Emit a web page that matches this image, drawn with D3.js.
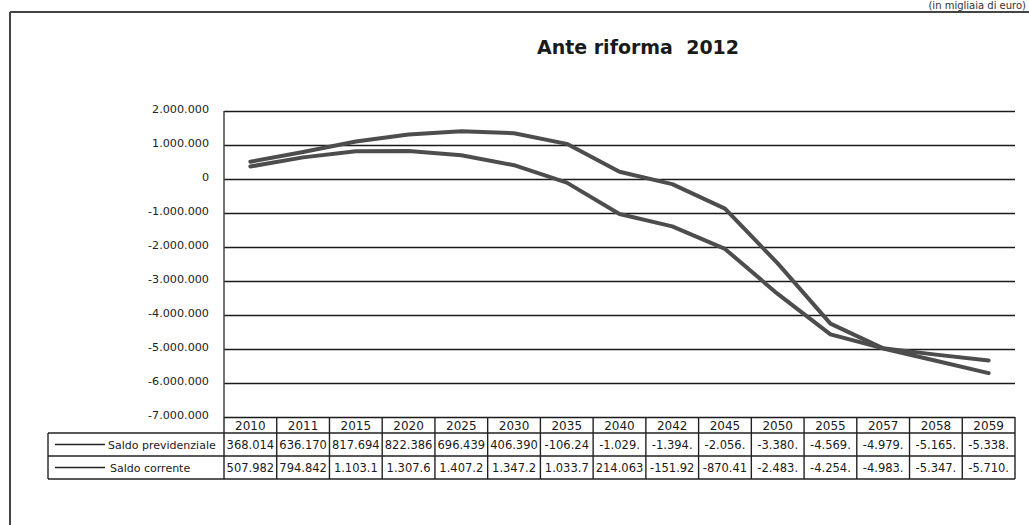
<!DOCTYPE html>
<html><head><meta charset="utf-8">
<script src="https://cdn.jsdelivr.net/npm/d3@7"></script>
<style>
html,body{margin:0;padding:0;background:#fff;}
svg{display:block;font-family:"DejaVu Sans",Verdana,sans-serif;}
.pre{white-space:pre;}
</style></head>
<body>
<svg id="chart" width="1029" height="525"></svg>
<script>
const title = "Ante riforma  2012";
const unitNote = "(in migliaia di euro)";
const years = ["2010","2011","2015","2020","2025","2030","2035","2040","2042","2045","2050","2055","2057","2058","2059"];
const seriesNames = ["Saldo previdenziale","Saldo corrente"];
const saldoPrevidenziale = [368014,636170,817694,822386,696439,406390,-106245,-1029400,-1394300,-2056200,-3380500,-4569300,-4979600,-5165200,-5338400];
const saldoCorrente = [507982,794842,1103100,1307600,1407200,1347200,1033700,214063,-151920,-870410,-2483500,-4254200,-4983300,-5347100,-5710600];
const yTicks = [2000000,1000000,0,-1000000,-2000000,-3000000,-4000000,-5000000,-6000000,-7000000];

const it = d3.formatLocale({decimal:",",thousands:".",grouping:[3],currency:["€",""],minus:"-"});
const fmt = it.format(",.0f");
const cellText = v => fmt(v).slice(0,7);

const svg = d3.select("#chart");
const L = 224, R = 1015, T = 111, B = 417;
const x = d3.scaleBand().domain(years).range([L,R]);
const y = d3.scaleLinear().domain([-7000000,2000000]).range([B,T]);
const cx = d => x(d) + x.bandwidth()/2;

// outer frame
svg.append("line").attr("x1",10).attr("x2",1029).attr("y1",12).attr("y2",12).attr("stroke","#444").attr("stroke-width",2);
svg.append("line").attr("x1",10).attr("x2",10).attr("y1",12).attr("y2",525).attr("stroke","#444").attr("stroke-width",2);

// unit note
svg.append("text").attr("x",1026).attr("y",9).attr("text-anchor","end").attr("font-size",10).attr("fill","#333").text(unitNote);

// title
svg.append("text").attr("class","pre").attr("x",638).attr("y",54).attr("text-anchor","middle").attr("font-size",19).attr("font-weight","bold").attr("fill","#1a1a1a").text(title);

// gridlines
const grid = svg.append("g").attr("transform",`translate(${L},0)`)
  .call(d3.axisLeft(y).tickValues(yTicks).tickSize(-(R-L)).tickFormat(""));
grid.select(".domain").remove();
grid.selectAll(".tick line").attr("stroke","#1a1a1a").attr("stroke-width",1.6);

// y labels
const ya = svg.append("g").attr("transform",`translate(${L-12},0)`)
  .call(d3.axisLeft(y).tickValues(yTicks).tickSize(0).tickFormat(fmt));
ya.select(".domain").remove();
ya.selectAll("text").attr("font-size",11.2).attr("fill","#222").attr("font-family","DejaVu Sans, sans-serif").attr("dy","0.1em");

// y axis line
svg.append("line").attr("x1",L).attr("x2",L).attr("y1",T).attr("y2",B).attr("stroke","#444").attr("stroke-width",1.5);

// lines
const line = d3.line().x((d,i)=>cx(years[i])).y(d=>y(d));
[saldoPrevidenziale, saldoCorrente].forEach(s=>{
  svg.append("path").datum(s).attr("d",line).attr("fill","none").attr("stroke","#4d4d4d").attr("stroke-width",4).attr("stroke-linejoin","round").attr("stroke-linecap","round");
});

// data table
const H0 = B, H1 = 433, R1 = 456, R2 = 479, TL = 48;
const tbl = svg.append("g").attr("stroke","#222").attr("stroke-width",1.4);
tbl.append("line").attr("x1",TL).attr("x2",R).attr("y1",H1).attr("y2",H1);
tbl.append("line").attr("x1",TL).attr("x2",R).attr("y1",R1).attr("y2",R1);
tbl.append("line").attr("x1",TL).attr("x2",R).attr("y1",R2).attr("y2",R2);
tbl.append("line").attr("x1",TL).attr("x2",TL).attr("y1",H1).attr("y2",R2);
tbl.append("line").attr("x1",L).attr("x2",L).attr("y1",H0).attr("y2",R2);
years.forEach(yr=>{
  tbl.append("line").attr("x1",x(yr)+x.bandwidth()).attr("x2",x(yr)+x.bandwidth()).attr("y1",H0).attr("y2",R2);
});
// year headers
svg.append("g").selectAll("text").data(years).join("text")
  .attr("x",d=>cx(d)).attr("y",(H0+H1)/2+4.5).attr("text-anchor","middle")
  .attr("font-size",12).attr("fill","#1a1a1a").text(d=>d);
// rows
[[saldoPrevidenziale,H1,R1],[saldoCorrente,R1,R2]].forEach(([s,a,b],k)=>{
  const mid=(a+b)/2;
  svg.append("line").attr("x1",55).attr("x2",105).attr("y1",mid).attr("y2",mid).attr("stroke","#222").attr("stroke-width",1.4);
  svg.append("text").attr("x",k===0?108:110).attr("y",mid+4).attr("font-size",11).attr("fill","#1a1a1a").text(seriesNames[k]);
  svg.append("g").selectAll("text").data(s).join("text")
    .attr("x",(d,i)=>cx(years[i])).attr("y",mid+4).attr("text-anchor","middle")
    .attr("font-size",11.5).attr("fill","#1a1a1a").text(d=>cellText(d));
});
</script>
</body></html>
